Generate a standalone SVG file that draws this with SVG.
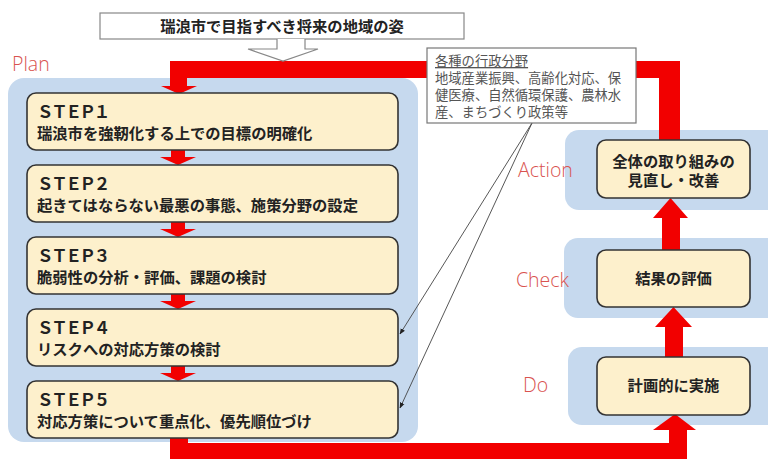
<svg xmlns="http://www.w3.org/2000/svg" width="768" height="459" viewBox="0 0 768 459">
<defs>
<style>
.bg{fill:#c6d9ee}
.box{fill:#fdf0cc;stroke:#333;stroke-width:1.6}
.red{fill:#f20000}
.jp{font-family:"Noto Sans CJK JP","Noto Sans CJK SC",sans-serif;font-weight:bold;font-size:15.3px;fill:#222}
.jp2{font-family:"Liberation Sans","Noto Sans CJK JP",sans-serif;font-weight:bold;font-size:15.3px;fill:#222}
.step{font-family:"Noto Sans CJK JP",sans-serif;font-weight:bold;font-size:16.5px;letter-spacing:-2.3px;fill:#222}
.note{font-family:"Liberation Sans","Noto Sans CJK JP",sans-serif;font-size:13.3px;fill:#555}
.lab{font-family:"Open Sans","Noto Sans",sans-serif;font-weight:300;font-size:19.5px;fill:#d9534f}
.thin{stroke:#444;stroke-width:0.9;fill:none}
</style>
<marker id="ah" viewBox="0 0 10 10" refX="9" refY="5" markerWidth="6" markerHeight="6" orient="auto" markerUnits="userSpaceOnUse">
<path d="M0,1 L10,5 L0,9 z" fill="#222"/>
</marker>
</defs>
<rect width="768" height="459" fill="#fff"/>

<g id="regions">
<rect id="plan-bg" class="bg" x="8" y="78" width="410" height="364" rx="16"/>
<rect id="action-bg" class="bg" x="565" y="130" width="220" height="80" rx="14"/>
<rect id="check-bg" class="bg" x="564" y="238" width="220" height="80" rx="14"/>
<rect id="do-bg" class="bg" x="568" y="347" width="220" height="78" rx="14"/>
</g>

<g id="labels">
<text class="lab" x="12" y="71">Plan</text>
<text class="lab" x="518" y="177">Action</text>
<text class="lab" x="516" y="287">Check</text>
<text class="lab" x="523" y="392">Do</text>
</g>

<g id="connectors">
<path class="red" d="M170,61 H680 V142 H659 V78 H187 V86 H197 L179,94 L161,86 H170 Z"/>
<path class="red" d="M171,150 H185 V157 H196 L178,165 L160,157 H171 Z"/>
<path class="red" d="M171,222 H185 V229 H196 L178,237 L160,229 H171 Z"/>
<path class="red" d="M171,294 H185 V301 H196 L178,309 L160,301 H171 Z"/>
<path class="red" d="M171,366 H185 V373 H196 L178,381 L160,373 H171 Z"/>
<path class="red" d="M170,437 H188 V443 H669 V430 H653 L675,414 L696,430 H687 V470 H170 Z"/>
<path class="red" d="M665,357 V327 H655 L673.5,307 L692,327 H683 V357 Z"/>
<path class="red" d="M662,250 V218 H653 L670.5,198 L688,218 H680 V250 Z"/>
<line class="thin" x1="532" y1="123" x2="400" y2="334" marker-end="url(#ah)"/>
<line class="thin" x1="532" y1="123" x2="400" y2="408" marker-end="url(#ah)"/>
</g>

<g id="goal">
<rect x="100" y="13" width="364" height="26" fill="#fff" stroke="#888" stroke-width="1.2"/>
<path d="M277,39 V49 H248 L283,61 L318,49 H305 V39" fill="#fff" stroke="#888" stroke-width="1.2"/>
<text class="jp" x="282" y="32" text-anchor="middle">瑞浪市で目指すべき将来の地域の姿</text>
</g>

<g id="note">
<rect x="427" y="48" width="209" height="75" fill="#fff" stroke="#777" stroke-width="1.2"/>
<text class="note" x="435" y="66"><tspan x="435" y="66" style="text-decoration:underline">各種の行政分野</tspan><tspan x="435" y="83">地域産業振興、高齢化対応、保</tspan><tspan x="435" y="100">健医療、自然循環保護、農林水</tspan><tspan x="435" y="117">産、まちづくり政策等</tspan></text>
</g>

<g id="step1">
<rect class="box" x="27" y="93" width="371" height="57" rx="9"/>
<text class="step" x="37" y="118">ＳＴＥＰ１</text>
<text class="jp" x="37" y="139">瑞浪市を強靭化する上での目標の明確化</text>
</g>
<g id="step2">
<rect class="box" x="27" y="165" width="371" height="57" rx="9"/>
<text class="step" x="37" y="190">ＳＴＥＰ２</text>
<text class="jp" x="37" y="211">起きてはならない最悪の事態、施策分野の設定</text>
</g>
<g id="step3">
<rect class="box" x="27" y="237" width="371" height="57" rx="9"/>
<text class="step" x="37" y="262">ＳＴＥＰ３</text>
<text class="jp" x="37" y="283">脆弱性の分析・評価、課題の検討</text>
</g>
<g id="step4">
<rect class="box" x="27" y="309" width="371" height="57" rx="9"/>
<text class="step" x="37" y="334">ＳＴＥＰ４</text>
<text class="jp" x="37" y="355">リスクへの対応方策の検討</text>
</g>
<g id="step5">
<rect class="box" x="27" y="381" width="371" height="57" rx="9"/>
<text class="step" x="37" y="406">ＳＴＥＰ５</text>
<text class="jp" x="37" y="427">対応方策について重点化、優先順位づけ</text>
</g>

<g id="action">
<rect class="box" x="597" y="140" width="153" height="58" rx="9"/>
<text class="jp2" text-anchor="middle"><tspan x="673.5" y="167">全体の取り組みの</tspan><tspan x="673.5" y="186">見直し・改善</tspan></text>
</g>
<g id="check">
<rect class="box" x="597" y="250" width="153" height="57" rx="9"/>
<text class="jp" x="673.5" y="284" text-anchor="middle">結果の評価</text>
</g>
<g id="do">
<rect class="box" x="597" y="357" width="153" height="58" rx="9"/>
<text class="jp" x="673.5" y="391" text-anchor="middle">計画的に実施</text>
</g>
</svg>
